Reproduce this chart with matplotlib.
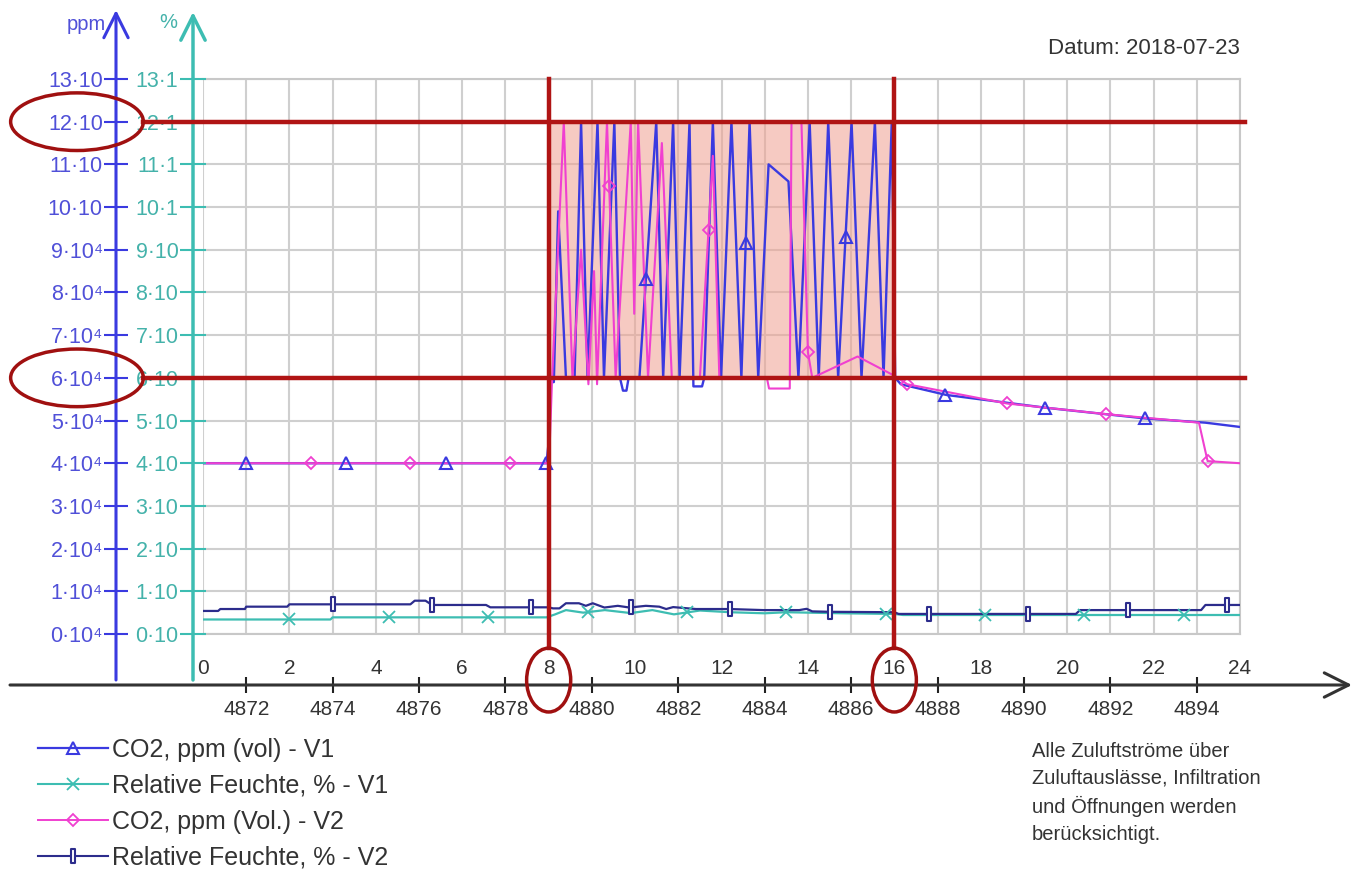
import matplotlib
matplotlib.use("Agg")
import matplotlib.pyplot as plt
from matplotlib.lines import Line2D
from matplotlib.patches import Ellipse, Rectangle
from matplotlib.path import Path
from matplotlib.transforms import blended_transform_factory
import numpy as np

plt.rcParams["font.family"] = ["Liberation Sans", "DejaVu Sans"]

# Stunden des Tages (0..24), CO2 in ppm, Feuchte in %
co2_v1_h = [0, 7.95, 8.0, 8.05, 8.12, 8.22, 8.4, 8.6, 8.75, 8.9, 9.13, 9.28, 9.52, 9.65, 9.72,
            9.8, 9.85, 10.1, 10.49, 10.65, 10.88, 11.03, 11.26, 11.35, 11.55, 11.6, 11.8, 11.99,
            12.23, 12.46, 12.65, 12.85, 13.09, 13.55, 13.78, 14.04, 14.25, 14.47, 14.7, 15.01,
            15.24, 15.55, 15.75, 15.94, 16.02, 16.15, 17.2, 19.5, 21.8, 23.2, 24]
co2_v1 = [40000, 40000, 45000, 59000, 59000, 99000, 60000, 60000, 120000, 60000, 120000, 60000,
          120000, 60000, 57000, 57000, 60000, 60000, 120000, 60000, 120000, 60000, 120000, 58000,
          58000, 60000, 120000, 60000, 120000, 60000, 120000, 60000, 110000, 106000, 60000,
          120000, 60000, 120000, 60000, 120000, 60000, 120000, 60000, 120000, 60000, 58500,
          56000, 53000, 50500, 49500, 48500]

co2_v2_h = [0, 7.97, 8.02, 8.08, 8.35, 8.55, 8.75, 8.92, 9.05, 9.12, 9.35, 9.55, 9.9, 9.98,
            10.07, 10.3, 10.62, 10.85, 11.5, 11.8, 11.95, 13.05, 13.1, 13.58, 13.62, 13.85,
            14.0, 14.1, 15.15, 16.0, 16.3, 18.6, 20.9, 23.05, 23.15, 23.25, 24]
co2_v2 = [40000, 40000, 43000, 60000, 120000, 60000, 90000, 58500, 85000, 58500, 120000, 60000,
          120000, 75000, 120000, 60000, 115000, 60000, 60000, 112000, 60000, 60000, 57500, 57500,
          120000, 120000, 66000, 60000, 65000, 60500, 58500, 54000, 51500, 49500, 45000, 40500,
          40000]

rh_v1_h = [0, 2.95, 3.0, 7.95, 8.15, 8.4, 8.8, 9.3, 9.9, 10.4, 10.9, 11.5, 12.2, 13.0, 13.5,
           14.8, 16.0, 16.2, 24]
rh_v1 = [3.4, 3.4, 3.9, 3.9, 4.6, 5.6, 5.0, 5.6, 4.9, 5.6, 4.6, 5.5, 5.1, 4.85, 5.1, 4.85, 4.7,
         4.45, 4.45]

rh_v2_h = [0, 0.35, 0.4, 0.97, 1.0, 1.95, 2.0, 4.8, 4.9, 5.15, 5.3, 6.55, 6.65, 8.0, 8.1, 8.25,
           8.4, 8.7, 8.86, 9.02, 9.29, 9.6, 9.87, 10.25, 10.56, 10.72, 10.88, 11.41, 12.18,
           12.97, 13.8, 13.97, 14.1, 14.5, 16.0, 16.1, 20.2, 20.3, 23.1, 23.2, 24]
rh_v2 = [5.4, 5.4, 5.85, 5.85, 6.4, 6.4, 6.95, 6.95, 7.8, 7.8, 6.8, 6.8, 6.25, 6.25, 6.0, 6.0,
         7.2, 7.2, 6.6, 7.2, 6.2, 6.6, 6.2, 6.6, 6.4, 5.85, 6.3, 5.85, 5.85, 5.6, 5.6, 5.9, 5.3,
         5.2, 5.1, 4.7, 4.7, 5.6, 5.6, 6.8, 6.8]

# Stunden, an denen die Symbole sitzen
co2_v1_mk = [1.0, 3.32, 5.63, 7.94, 10.25, 12.56, 14.87, 17.18, 19.49, 21.8]
rh_v1_mk = [2.0, 4.3, 6.6, 8.9, 11.2, 13.5, 15.8, 18.1, 20.4, 22.7]
co2_v2_mk = [2.5, 4.8, 7.1, 9.4, 11.7, 14.0, 16.3, 18.6, 20.9, 23.25]
rh_v2_mk = [3.0, 5.3, 7.6, 9.9, 12.2, 14.5, 16.8, 19.1, 21.4, 23.7]

hour_ticks = list(range(0, 25, 2))
hour_of_year_ticks = list(range(4872, 4895, 2))
hour_of_year_offset = 4871
ppm_ticks = [k * 10000 for k in range(14)]
ppm_labels = [f"{k}·10⁴" for k in range(10)] + ["10·10", "11·10", "12·10", "13·10"]
pct_ticks = [k * 10 for k in range(14)]
pct_labels = [f"{k}·10" for k in range(10)] + ["10·1", "11·1", "12·1", "13·1"]

legend_labels = ["CO2, ppm (vol) - V1", "Relative Feuchte, % - V1",
                 "CO2, ppm (Vol.) - V2", "Relative Feuchte, % - V2"]

highlight_h = (8, 16)
highlight_ppm = (60000, 120000)

BLUE = "#3a3ae0"
TEAL = "#3dbdb2"
MAGENTA = "#f040d0"
NAVY = "#2c2c8c"
RED = "#b01414"
BLUE_TXT = "#5050d8"
TEAL_TXT = "#44b2aa"
GREY_TXT = "#333333"

W, H = 1355, 869
fig = plt.figure(figsize=(W / 100, H / 100), dpi=100)
ax = fig.add_axes([203 / W, 1 - 634 / H, 1037 / W, 555 / H])
ax.set_xlim(0, 24)
ax.set_ylim(0, 130000)

ax.set_axisbelow(True)
ax.set_xticks(hour_ticks)
ax.set_xticks(range(1, 24, 2), minor=True)
ax.grid(True, which="both", color="#cfcfcf", lw=1.5)
for s in ["top", "right", "bottom"]:
    ax.spines[s].set_color("#c8c8c8")
    ax.spines[s].set_linewidth(1.5)
ax.spines["left"].set_visible(False)
ax.spines["left"].set_position(("outward", 87 * 0.72))
ax.tick_params(axis="x", which="both", length=0, pad=18, labelsize=15, labelcolor=GREY_TXT)

ax.set_yticks(ppm_ticks)
ax.set_yticklabels(ppm_labels)
ax.tick_params(axis="y", direction="inout", length=17, width=1.5, color=BLUE,
               labelcolor=BLUE_TXT, labelsize=15.5, pad=1)

# markierter Bereich
ax.add_patch(Rectangle((highlight_h[0], highlight_ppm[0]), highlight_h[1] - highlight_h[0],
                       highlight_ppm[1] - highlight_ppm[0], facecolor="#f0a090", alpha=0.55,
                       edgecolor="none", zorder=1))

ax.plot(co2_v1_h, co2_v1, color=BLUE, lw=1.7, zorder=3)
ax.plot(co2_v2_h, co2_v2, color=MAGENTA, lw=1.5, zorder=3)
ax.plot(co2_v1_mk, np.interp(co2_v1_mk, co2_v1_h, co2_v1), ls="none", marker="^", ms=8,
        mfc="none", mec=BLUE, mew=1.5, zorder=4)
ax.plot(co2_v2_mk, np.interp(co2_v2_mk, co2_v2_h, co2_v2), ls="none", marker="D", ms=6,
        mfc="none", mec=MAGENTA, mew=1.3, zorder=4)

rect_marker = Path([(-0.35, -1), (0.35, -1), (0.35, 1), (-0.35, 1), (-0.35, -1)],
                   [Path.MOVETO, Path.LINETO, Path.LINETO, Path.LINETO, Path.CLOSEPOLY])

# zweite Achse: Feuchte
ax2 = ax.twinx()
ax2.set_ylim(0, 130)
ax2.yaxis.tick_left()
for s in ax2.spines.values():
    s.set_visible(False)
ax2.spines["left"].set_position(("outward", 10 * 0.72))
ax2.set_yticks(pct_ticks)
ax2.set_yticklabels(pct_labels)
ax2.tick_params(axis="y", direction="inout", length=19, width=1.5, color=TEAL,
                labelcolor=TEAL_TXT, labelsize=15.5, pad=1)
ax2.plot(rh_v1_h, rh_v1, color=TEAL, lw=1.6, zorder=3)
ax2.plot(rh_v2_h, rh_v2, color=NAVY, lw=1.6, zorder=3)
ax2.plot(rh_v1_mk, np.interp(rh_v1_mk, rh_v1_h, rh_v1), ls="none", marker="x", ms=9,
         mec=TEAL, mew=1.3, zorder=4)
ax2.plot(rh_v2_mk, np.interp(rh_v2_mk, rh_v2_h, rh_v2), ls="none", marker=rect_marker, ms=10,
         mfc="white", mec=NAVY, mew=1.5, zorder=4)

# Stunde des Jahres
sec = ax.secondary_xaxis(-51 / 555, functions=(lambda h: h + hour_of_year_offset,
                                                lambda n: n - hour_of_year_offset))
sec.set_xticks(hour_of_year_ticks)
sec.spines["bottom"].set_visible(False)
sec.tick_params(direction="inout", length=12, width=1.5, color="#222222", pad=5,
                labelsize=15, labelcolor=GREY_TXT)


def axis_arrow(x0, y0, x1, y1, color, lw):
    ax.annotate("", xy=(x1 / W, 1 - y1 / H), xytext=(x0 / W, 1 - y0 / H),
                xycoords="figure fraction", textcoords="figure fraction",
                arrowprops=dict(arrowstyle="->,head_width=0.35,head_length=0.7", color=color,
                                lw=lw, mutation_scale=25, shrinkA=0, shrinkB=0))


axis_arrow(116, 680, 116, 10, BLUE, 2.2)
axis_arrow(193, 680, 193, 12, TEAL, 2.5)
axis_arrow(10, 685, 1352, 685, "#333333", 2.2)

fig.text(86 / W, 1 - 24 / H, "ppm", color=BLUE_TXT, fontsize=14.5, ha="center", va="center")
fig.text(168 / W, 1 - 22 / H, "%", color=TEAL_TXT, fontsize=14.5, ha="center", va="center")

# rote Markierungen
hx = blended_transform_factory(ax.transAxes, ax.transData)
vx = blended_transform_factory(ax.transData, ax.transAxes)
for v in highlight_ppm:
    fig.add_artist(Line2D([-0.058, 1.005], [v, v], transform=hx, color=RED, lw=3.2, zorder=10))
    fig.add_artist(Ellipse((-0.1215, v), 0.128, 13500, transform=hx, fill=False,
                           edgecolor="#a01010", lw=2.5, zorder=10))
for h in highlight_h:
    fig.add_artist(Line2D([h, h], [1.0, -0.025], transform=vx, color=RED, lw=3.2, zorder=10))
    fig.add_artist(Ellipse((h, -0.083), 1.02, 0.115, transform=vx, fill=False,
                           edgecolor="#a01010", lw=2.5, zorder=10))

handles = [
    Line2D([], [], color=BLUE, lw=1.6, marker="^", ms=8, mfc="none", mec=BLUE, mew=1.5),
    Line2D([], [], color=TEAL, lw=1.5, marker="x", ms=9, mec=TEAL, mew=1.3),
    Line2D([], [], color=MAGENTA, lw=1.4, marker="D", ms=6, mfc="none", mec=MAGENTA, mew=1.3),
    Line2D([], [], color=NAVY, lw=1.5, marker=rect_marker, ms=10, mfc="white", mec=NAVY, mew=1.5),
]
fig.legend(handles, legend_labels, loc="upper left", bbox_to_anchor=(38 / W, 1 - 738 / H),
           frameon=False, fontsize=18, handlelength=2.8, handletextpad=0.15,
           labelspacing=0.47, borderpad=0, borderaxespad=0, labelcolor=GREY_TXT)

fig.text(1240 / W, 1 - 48 / H, "Datum: 2018-07-23", ha="right", va="center", fontsize=16,
         color=GREY_TXT)
fig.text(1032 / W, 1 - 742 / H,
         "Alle Zuluftströme über\nZuluftauslässe, Infiltration\nund Öffnungen werden\nberücksichtigt.",
         ha="left", va="top", fontsize=14.5, linespacing=1.5, color=GREY_TXT)

fig.savefig("out.png", dpi=100)
